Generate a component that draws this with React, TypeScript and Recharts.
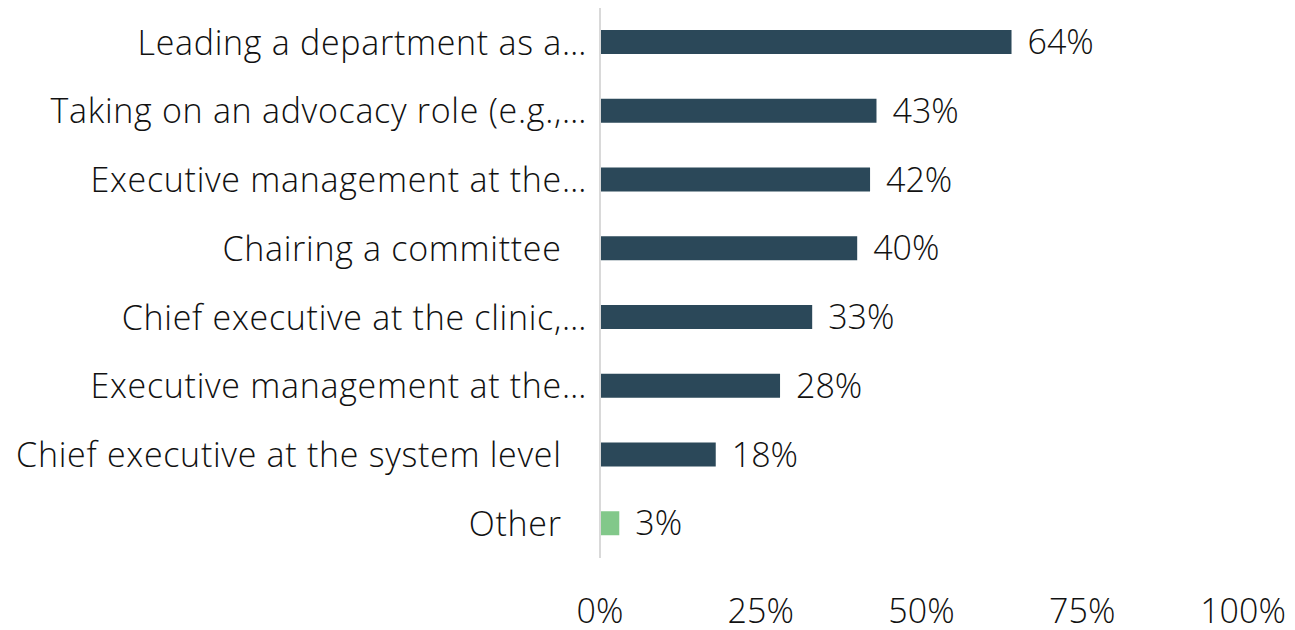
import { BarChart, Bar, XAxis, YAxis, LabelList, Cell } from 'recharts'

// categories top to bottom, trailing spaces mimic the spacing of the source labels
const categories = [
  'Leading a department as a…',
  'Taking on an advocacy role (e.g.,…',
  'Executive management at the…',
  'Chairing a committee\u00A0\u00A0\u2009',
  'Chief executive at the clinic,…',
  'Executive management at the…',
  'Chief executive at the system level\u00A0\u00A0\u2009',
  'Other\u00A0\u00A0\u2009',
]
const shares = [64, 43, 42, 40, 33, 28, 18, 3]
const highlight = [false, false, false, false, false, false, false, true]
const xTicks = [0, 25, 50, 75, 100]

const DARK = '#2b4859'
const GREEN = '#82c88a'
const FONT = '"Open Sans", "Noto Sans", sans-serif'
const TEXT = '#111111'

const data = categories.map((name, i) => ({ name, value: shares[i], other: highlight[i] }))

function CategoryTick(props: any) {
  const { x, y, payload } = props
  return (
    <text
      x={x}
      y={y}
      dy="0.36em"
      textAnchor="end"
      fontSize={34}
      fontFamily={FONT}
      fontWeight={300}
      letterSpacing={0.7}
      fill={TEXT}
    >
      {payload.value}
    </text>
  )
}

export default function App() {
  return (
    <div>
      <style>{'body{margin:0;background:#fff}'}</style>
      <BarChart
        width={1295}
        height={630}
        data={data}
        layout="vertical"
        margin={{ top: 8, right: 52, bottom: 0, left: 0 }}
        barSize={24}
      >
        <XAxis
          type="number"
          domain={[0, 100]}
          ticks={xTicks}
          tickFormatter={(v) => `${v}%`}
          axisLine={false}
          tickLine={false}
          tickSize={0}
          tickMargin={41}
          height={72}
          interval={0}
          tick={{ fontSize: 34, fontFamily: FONT, fontWeight: 300, fill: TEXT }}
        />
        <YAxis
          type="category"
          dataKey="name"
          width={600}
          axisLine={{ stroke: '#d9d9d9', strokeWidth: 2 }}
          tickLine={false}
          tickSize={0}
          tickMargin={13}
          interval={0}
          tick={<CategoryTick />}
        />
        <Bar dataKey="value" isAnimationActive={false}>
          {data.map((d, i) => (
            <Cell key={i} fill={d.other ? GREEN : DARK} />
          ))}
          <LabelList
            dataKey="value"
            position="right"
            offset={16}
            formatter={(v: any) => `${v}%`}
            style={{ fontSize: 34, fontFamily: FONT, fontWeight: 300, fill: TEXT }}
          />
        </Bar>
      </BarChart>
    </div>
  )
}
